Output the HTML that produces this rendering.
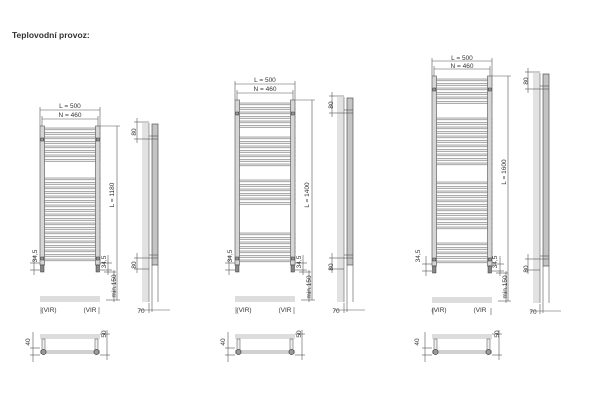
<!DOCTYPE html>
<html><head><meta charset="utf-8"><style>
html,body{margin:0;padding:0;background:#fff;width:600px;height:401px;overflow:hidden}
svg{display:block}
text{font-family:"Liberation Sans",sans-serif;fill:#333}
</style></head><body>
<svg id="s" width="600" height="401" viewBox="0 0 600 401" xmlns="http://www.w3.org/2000/svg">
<text x="12" y="38" font-size="8.5" font-weight="bold" fill="#222">Teplovodní provoz:</text>
<g id="g"></g>
<g font-size="6.5" text-anchor="middle">
<text x="70" y="108">L = 500</text><text x="70" y="117">N = 460</text>
<text transform="translate(114,195) rotate(-90)">L = 1180</text>
<text transform="translate(136,132) rotate(-90)">80</text>
<text transform="translate(136,265) rotate(-90)">80</text>
<text transform="translate(37,256) rotate(-90)">34,5</text>
<text transform="translate(106,262) rotate(-90)">34,5</text>
<text transform="translate(116,286) rotate(-90)">min.150</text>
<text x="141" y="313">70</text>
<text x="49" y="312">(VIR)</text><text x="90" y="312">(VIR</text>
<text transform="translate(30,342) rotate(-90)">40</text>
<text transform="translate(106,334) rotate(-90)">50</text>
<text x="265" y="82">L = 500</text><text x="265" y="91">N = 460</text>
<text transform="translate(309,195) rotate(-90)">L = 1400</text>
<text transform="translate(333,105) rotate(-90)">80</text>
<text transform="translate(333,267) rotate(-90)">80</text>
<text transform="translate(232,256) rotate(-90)">34,5</text>
<text transform="translate(301,262) rotate(-90)">34,5</text>
<text transform="translate(311,287) rotate(-90)">min.150</text>
<text x="336" y="313">70</text>
<text x="244" y="312">(VIR)</text><text x="285" y="312">(VIR</text>
<text transform="translate(225,342) rotate(-90)">40</text>
<text transform="translate(301,334) rotate(-90)">50</text>
<text x="462" y="60">L = 500</text><text x="462" y="68">N = 460</text>
<text transform="translate(506,172) rotate(-90)">L = 1600</text>
<text transform="translate(528,81) rotate(-90)">80</text>
<text transform="translate(528,269) rotate(-90)">80</text>
<text transform="translate(420,256) rotate(-90)">34,5</text>
<text transform="translate(497,262) rotate(-90)">34,5</text>
<text transform="translate(507,287) rotate(-90)">min.150</text>
<text x="533" y="314">70</text>
<text x="439" y="312">(VIR)</text><text x="480" y="312">(VIR</text>
<text transform="translate(419,342) rotate(-90)">40</text>
<text transform="translate(499,334) rotate(-90)">50</text>
</g>
</svg>
<script>
var g=document.getElementById('g'),h='';
function R(a,b,c,d,s){h+='<rect x="'+a+'" y="'+b+'" width="'+c+'" height="'+d+'" '+s+'/>';}
function L(a,b,c,d,s){h+='<line x1="'+a+'" y1="'+b+'" x2="'+c+'" y2="'+d+'" stroke="'+(s||'#555')+'" stroke-width="0.6"/>';}
function rad(o){
 var xl=o.xl,xr=o.xr,t=o.t,b=o.b;
 o.groups.forEach(function(gp){for(var y=gp[0];y<gp[1];y+=4.5){R(xl+4,y,xr-xl-4,1.8,'fill="#eee" stroke="#777" stroke-width="0.6"');}});
 R(xl,t,4.5,b-t,'fill="#d6d6d6" stroke="#666" stroke-width="0.7"');
 R(xr-4.5,t,4.5,b-t,'fill="#d6d6d6" stroke="#666" stroke-width="0.7"');
 [t+12,b-8].forEach(function(y){R(xl+0.8,y,3,3,'fill="#999" stroke="#333" stroke-width="0.5"');R(xr-3.8,y,3,3,'fill="#999" stroke="#333" stroke-width="0.5"');});
 R(xl+0.5,b,3.5,7,'fill="#888" stroke="#333" stroke-width="0.5"');R(xr-4,b,3.5,7,'fill="#888" stroke="#333" stroke-width="0.5"');
 L(xl,o.Ly-3,xl,t);L(xr,o.Ly-3,xr,t);L(xl,o.Ly,xr,o.Ly);
 L(xl+2,o.Ny,xr-2,o.Ny);L(xl+2,o.Ny-3,xl+2,t);L(xr-2,o.Ny-3,xr-2,t);
 L(xr,t,o.lx+3,t);L(o.lx,t,o.lx,b+35);L(xr+6,b+35,o.lx+3,b+35);
 L(xl-10,b-2,xl,b-2);L(xl-10,b+5,xl,b+5);L(xl-6,b-10,xl-6,b+10);
 L(xr,b-2,xr+12,b-2);L(xr,b+5,xr+12,b+5);L(xr+8,b-10,xr+8,b+10);
 L(xr+4,b+7,xr+16,b+7);L(xr+14,b+5,xr+14,b+37);
 R(xl,b+31,xr-xl,6,'fill="#ddd"');
 L(xl+1,b+42,xl+1,b+49);L(xr-1,b+42,xr-1,b+49);
 var sx=o.sx;
 R(sx,t-3,7,b-t+40,'fill="#e2e2e2"');
 L(sx+7,t-3,sx+7,b+37,'#666');
 R(sx+10,t-2,6,b-t+2,'fill="#c4c4c4" stroke="#555" stroke-width="0.7"');
 L(sx+7,t+10,sx+16,t+10);L(sx+7,t+13,sx+16,t+13);
 L(sx+7,b-10,sx+16,b-10);L(sx+7,b-7,sx+16,b-7);
 L(sx-8,t-4,sx+7,t-4);L(sx-8,t+13,sx+7,t+13);L(sx-5,t-8,sx-5,t+17);
 L(sx-8,b-7,sx+7,b-7);L(sx-8,b+4,sx+7,b+4);L(sx-5,b-12,sx-5,b+8);
 L(sx+10,b,sx+10,b+47);L(sx+16,b,sx+16,b+37);
 L(sx-3,b+45,sx+28,b+45);L(sx+7,b+38,sx+7,b+48);
 var py=334;
 R(xl,py,xr-xl,5,'fill="#ddd"');
 R(xl+2,py+5,3,12,'fill="#eee" stroke="#666" stroke-width="0.6"');R(xr-5,py+5,3,12,'fill="#eee" stroke="#666" stroke-width="0.6"');
 L(xl,py+17,xr,py+17,'#444');L(xl,py+19,xr,py+19,'#444');
 h+='<circle cx="'+(xl+3.5)+'" cy="'+(py+18)+'" r="2.6" fill="#999" stroke="#333" stroke-width="0.6"/>';
 h+='<circle cx="'+(xr-3.5)+'" cy="'+(py+18)+'" r="2.6" fill="#999" stroke="#333" stroke-width="0.6"/>';
 L(xl-10,py+14,xl,py+14);L(xl-10,py+21,xl,py+21);L(xl-7,py-2,xl-7,py+28);
 L(xr,py,xr+10,py);L(xr,py+21,xr+10,py+21);L(xr+7,py-4,xr+7,py+26);
}
rad({xl:40,xr:100,t:126,b:265,Ly:110,Ny:119,lx:117,sx:142,groups:[[128,160],[178,263]]});
rad({xl:235,xr:295,t:100,b:265,Ly:84,Ny:93,lx:312,sx:337,groups:[[103,127],[137,167],[180,207],[233,263]]});
rad({xl:432,xr:492,t:76,b:266,Ly:61,Ny:69,lx:508,sx:533,groups:[[79,104],[118,164],[182,228],[243,264]]});
g.innerHTML=h;
</script>
</body></html>
